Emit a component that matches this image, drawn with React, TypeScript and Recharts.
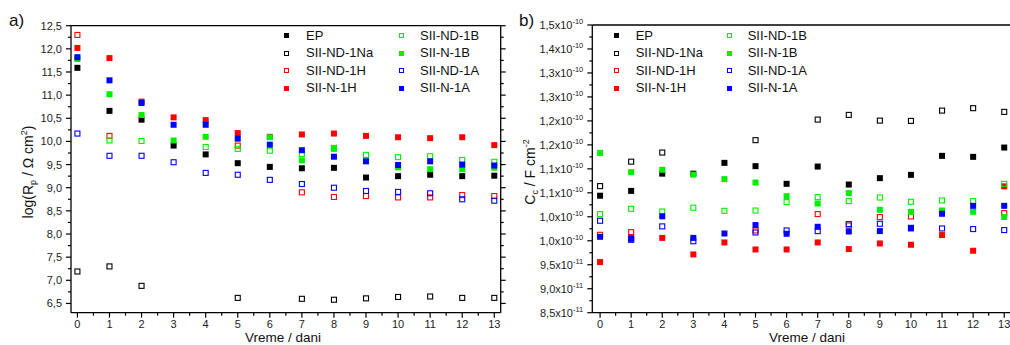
import React from "react";
import { ScatterChart, Scatter, XAxis, YAxis } from "recharts";

const DAYS = [0, 1, 2, 3, 4, 5, 6, 7, 8, 9, 10, 11, 12, 13];

// a) log(Rp / Ohm cm2)
const RP_EP = [11.59, 10.66, 10.47, 9.91, 9.72, 9.53, 9.45, 9.42, 9.43, 9.22, 9.25, 9.28, 9.25, 9.26];
const RP_ND_1NA = [7.19, 7.3, 6.88, null, null, 6.62, null, 6.6, 6.58, 6.61, 6.64, 6.65, 6.62, 6.62];
const RP_ND_1H = [12.3, 10.12, null, null, null, 9.91, null, 8.9, 8.8, 8.82, 8.79, 8.79, 8.84, 8.82];
const RP_N_1H = [12.02, 11.8, 10.86, 10.52, 10.46, 10.18, 10.1, 10.15, 10.17, 10.12, 10.09, 10.07, 10.09, 9.92];
const RP_ND_1B = [null, 10.02, 10.01, null, 9.88, 9.84, 9.8, 9.73, 9.86, 9.71, 9.66, 9.68, 9.6, 9.56];
const RP_N_1B = [11.78, 11.02, 10.57, 10.02, 10.1, null, 10.09, 9.59, 9.84, 9.59, 9.44, 9.4, 9.4, 9.43];
const RP_ND_1A = [10.17, 9.69, 9.69, 9.55, 9.32, 9.28, 9.17, 9.08, 9.0, 8.93, 8.91, 8.88, 8.75, 8.72];
const RP_N_1A = [11.82, 11.32, 10.83, 10.36, 10.36, 10.06, 9.93, 9.81, 9.67, 9.57, 9.49, 9.57, 9.5, 9.48];

// b) Cc, in units of 1e-10 F cm-2
const CC_EP = [1.094, 1.104, 1.14, 1.14, 1.1625, 1.1556, 1.1188, 1.1548, 1.1173, 1.1306, 1.1375, 1.1771, 1.175, 1.1944];
const CC_ND_1NA = [1.114, 1.165, 1.184, null, null, 1.2098, null, 1.2527, 1.2625, 1.2506, 1.25, 1.2715, 1.2765, 1.2688];
const CC_ND_1H = [1.0125, 1.018, null, null, null, 1.0215, null, 1.0556, 1.0319, 1.0494, 1.0507, null, null, 1.0577];
const CC_N_1H = [0.9556, 1.008, 1.006, 0.9715, 0.9965, 0.9819, 0.9819, 0.9965, 0.9827, 0.9944, 0.9917, 1.0119, 0.9792, 1.1135];
const CC_ND_1B = [1.0556, 1.0667, 1.061, 1.069, 1.0625, 1.0631, 1.0806, 1.091, 1.0827, 1.0902, 1.0813, 1.084, 1.0827, 1.1188];
const CC_N_1B = [1.1833, 1.143, 1.148, 1.138, 1.1285, 1.1215, 1.0931, 1.0777, 1.0994, 1.0646, 1.0604, 1.0631, 1.0604, 1.0494];
const CC_ND_1A = [1.0417, 1.002, 1.03, 0.999, null, 1.0173, 1.0215, 1.0202, 1.0348, 1.0354, 1.027, 1.0257, 1.0244, 1.0223];
const CC_N_1A = [1.0083, 1.004, 1.051, 1.006, 1.0152, 1.0327, 1.0146, 1.0292, 1.0194, 1.0202, 1.0257, 1.0563, 1.0729, 1.0729];

const SERIES = [
  { name: "EP", color: "#000000", filled: true, rp: RP_EP, cc: CC_EP },
  { name: "SII-ND-1Na", color: "#000000", filled: false, rp: RP_ND_1NA, cc: CC_ND_1NA },
  { name: "SII-ND-1H", color: "#ff0000", filled: false, rp: RP_ND_1H, cc: CC_ND_1H },
  { name: "SII-N-1H", color: "#ff0000", filled: true, rp: RP_N_1H, cc: CC_N_1H },
  { name: "SII-ND-1B", color: "#00ee00", filled: false, rp: RP_ND_1B, cc: CC_ND_1B },
  { name: "SII-N-1B", color: "#00ee00", filled: true, rp: RP_N_1B, cc: CC_N_1B },
  { name: "SII-ND-1A", color: "#0000ff", filled: false, rp: RP_ND_1A, cc: CC_ND_1A },
  { name: "SII-N-1A", color: "#0000ff", filled: true, rp: RP_N_1A, cc: CC_N_1A },
];

const X_MAJOR = DAYS;
const RP_MAJOR = [6.5, 7.0, 7.5, 8.0, 8.5, 9.0, 9.5, 10.0, 10.5, 11.0, 11.5, 12.0, 12.5];
const CC_MAJOR = [0.85, 0.9, 0.95, 1.0, 1.05, 1.1, 1.15, 1.2, 1.25, 1.3, 1.35, 1.4, 1.45];
const CC_LABELS = ["8,5", "9,0", "9,5", "1,0", "1,0", "1,1", "1,1", "1,2", "1,2", "1,3", "1,3", "1,4", "1,5"];
const CC_EXP = ["-11", "-11", "-11", "-10", "-10", "-10", "-10", "-10", "-10", "-10", "-10", "-10", "-10"];

const FONT = "'Liberation Sans', Arial, sans-serif";

const withMinor = (major: number[], lo: number, hi: number) => {
  const all = [...major];
  for (let i = 0; i < major.length - 1; i++) all.push((major[i] + major[i + 1]) / 2);
  return all.filter((v) => v >= lo && v <= hi).sort((a, b) => a - b);
};

const isIn = (arr: number[], v: number) => arr.some((m) => Math.abs(m - v) < 1e-6);

const points = (vals: (number | null)[]) =>
  DAYS.map((d, i) => ({ x: d, y: vals[i] })).filter((p) => p.y != null);

const square = (color: string, filled: boolean) => (props: any) => {
  const { cx, cy } = props;
  if (cx == null || cy == null) return <g />;
  return filled ? (
    <rect x={cx - 3} y={cy - 3} width={6} height={6} fill={color} />
  ) : (
    <rect x={cx - 2.5} y={cy - 2.5} width={5} height={5} fill="none" stroke={color} strokeWidth={1.1} />
  );
};

const leftTick = (major: number[], label: (v: number, i: number) => React.ReactNode) => (p: any) => {
  const v = p.payload.value;
  const m = isIn(major, v);
  const idx = major.findIndex((q) => Math.abs(q - v) < 1e-6);
  return (
    <g>
      <line x1={p.x - (m ? 5 : 3)} x2={p.x} y1={p.y} y2={p.y} stroke="#000" strokeWidth={1.2} />
      {m && (
        <text x={p.x - 9} y={p.y + 4} textAnchor="end" fontSize={11} fill="#222" fontFamily={FONT}>
          {label(v, idx)}
        </text>
      )}
    </g>
  );
};

const rightTick = (major: number[]) => (p: any) => {
  const m = isIn(major, p.payload.value);
  return <line x1={p.x} x2={p.x + (m ? 5 : 3)} y1={p.y} y2={p.y} stroke="#000" strokeWidth={1.2} />;
};

const bottomTick = (p: any) => {
  const v = p.payload.value;
  const m = isIn(X_MAJOR, v);
  return (
    <g>
      <line x1={p.x} x2={p.x} y1={p.y} y2={p.y + (m ? 5 : 3)} stroke="#000" strokeWidth={1.2} />
      {m && (
        <text x={p.x} y={p.y + 15.5} textAnchor="middle" fontSize={11} fill="#222" fontFamily={FONT}>
          {v}
        </text>
      )}
    </g>
  );
};

const topTick = (p: any) => (
  <line x1={p.x} x2={p.x} y1={p.y} y2={p.y - 3} stroke="#999" strokeWidth={1} />
);

const rpLabel = (v: number) => v.toFixed(1).replace(".", ",");
const ccLabel = (_v: number, i: number) => (
  <>
    <tspan>{CC_LABELS[i]}x10</tspan>
    <tspan dy={-5} fontSize={7.5}>
      {CC_EXP[i]}
    </tspan>
  </>
);

function LegendBox({ cols }: { cols: { marker: number; text: number }[] }) {
  const rows = [35.5, 53, 70.5, 88];
  return (
    <>
      {SERIES.map((s, i) => {
        const c = cols[Math.floor(i / 4)];
        const y = rows[i % 4];
        return (
          <React.Fragment key={s.name}>
            <div
              style={{
                position: "absolute",
                left: c.marker - 2.5,
                top: y - 2.5,
                width: s.filled ? 5 : 3,
                height: s.filled ? 5 : 3,
                background: s.filled ? s.color : "transparent",
                border: s.filled ? "none" : `1px solid ${s.color}`,
              }}
            />
            <div
              style={{
                position: "absolute",
                left: c.text,
                top: y - 8,
                lineHeight: "16px",
                fontSize: 13,
                color: "#111",
                whiteSpace: "nowrap",
              }}
            >
              {s.name}
            </div>
          </React.Fragment>
        );
      })}
    </>
  );
}

function Panel({
  left,
  tag,
  yDomain,
  yMajor,
  yLabel,
  yWidth,
  margin,
  values,
  yTitle,
  yTitleX,
  xTitleX,
  legendCols,
  xDomain,
}: any) {
  const yTicks = withMinor(yMajor, yDomain[0], yDomain[1]);
  const xTicks = withMinor(X_MAJOR, xDomain[0], xDomain[1]);
  return (
    <div style={{ position: "absolute", left, top: 0, width: 510, height: 345 }}>
      <ScatterChart width={510} height={345} margin={margin}>
        <XAxis
          xAxisId="b"
          type="number"
          dataKey="x"
          domain={xDomain}
          allowDataOverflow
          ticks={xTicks}
          interval={0}
          tickSize={0}
          tickMargin={0}
          tick={bottomTick}
          height={25}
          axisLine={{ stroke: "#000", strokeWidth: 1.3 }}
          tickLine={false}
        />
        <XAxis
          xAxisId="t"
          orientation="top"
          type="number"
          domain={xDomain}
          allowDataOverflow
          ticks={xTicks}
          interval={0}
          tickSize={0}
          tickMargin={0}
          tick={topTick}
          height={5}
          axisLine={{ stroke: "#000", strokeWidth: 1.3 }}
          tickLine={false}
        />
        <YAxis
          yAxisId="l"
          type="number"
          dataKey="y"
          domain={yDomain}
          allowDataOverflow
          ticks={yTicks}
          interval={0}
          tickSize={0}
          tickMargin={0}
          tick={leftTick(yMajor, yLabel)}
          width={yWidth}
          axisLine={{ stroke: "#000", strokeWidth: 1.3 }}
          tickLine={false}
        />
        <YAxis
          yAxisId="r"
          orientation="right"
          type="number"
          domain={yDomain}
          allowDataOverflow
          ticks={yTicks}
          interval={0}
          tickSize={0}
          tickMargin={0}
          tick={rightTick(yMajor)}
          width={8}
          axisLine={{ stroke: "#000", strokeWidth: 1.3 }}
          tickLine={false}
        />
        {SERIES.map((s) => (
          <Scatter
            key={s.name}
            name={s.name}
            xAxisId="b"
            yAxisId="l"
            data={points(values(s))}
            shape={square(s.color, s.filled)}
            isAnimationActive={false}
          />
        ))}
      </ScatterChart>
      <div style={{ position: "absolute", left: 9, top: 11, fontSize: 17, color: "#111" }}>{tag}</div>
      <div
        style={{
          position: "absolute",
          left: yTitleX,
          top: 172,
          transform: "translate(-50%, -50%) rotate(-90deg)",
          whiteSpace: "nowrap",
          fontSize: 14,
          lineHeight: "16px",
          color: "#111",
        }}
      >
        {yTitle}
      </div>
      <div
        style={{
          position: "absolute",
          left: xTitleX,
          top: 332,
          transform: "translateX(-50%)",
          whiteSpace: "nowrap",
          fontSize: 13.5,
          lineHeight: "12px",
          color: "#111",
        }}
      >
        Vreme / dani
      </div>
      <LegendBox cols={legendCols} />
    </div>
  );
}

const sub: React.CSSProperties = { fontSize: 9, verticalAlign: "-3px", lineHeight: 0 };
const sup: React.CSSProperties = { fontSize: 9, verticalAlign: "6px", lineHeight: 0 };

export default function App() {
  return (
    <div
      style={{
        position: "fixed",
        left: 0,
        top: 0,
        width: 1010,
        height: 345,
        overflow: "hidden",
        background: "#fff",
        fontFamily: FONT,
      }}
    >
      <Panel
        left={0}
        tag="a)"
        xDomain={[-0.2, 13.2]}
        yDomain={[6.3, 12.5]}
        yMajor={RP_MAJOR}
        yLabel={rpLabel}
        yWidth={50}
        margin={{ top: 20.7, right: 1.3, bottom: 7.3, left: 21 }}
        values={(s: any) => s.rp}
        yTitleX={28}
        xTitleX={283}
        yTitle={
          <span>
            log(R<span style={sub}>p</span> / Ω cm<span style={sup}>2</span>)
          </span>
        }
        legendCols={[
          { marker: 286.7, text: 306 },
          { marker: 401.7, text: 420 },
        ]}
      />
      <Panel
        left={510}
        tag="b)"
        xDomain={[-0.25, 13.25]}
        yDomain={[0.85, 1.45]}
        yMajor={CC_MAJOR}
        yLabel={ccLabel}
        yWidth={60}
        margin={{ top: 20, right: 0, bottom: 7.3, left: 22.3 }}
        values={(s: any) => s.cc}
        yTitleX={20}
        xTitleX={297}
        yTitle={
          <span>
            C<span style={sub}>c</span> / F cm<span style={sup}>-2</span>
          </span>
        }
        legendCols={[
          { marker: 106.7, text: 125.7 },
          { marker: 219, text: 237.7 },
        ]}
      />
    </div>
  );
}
